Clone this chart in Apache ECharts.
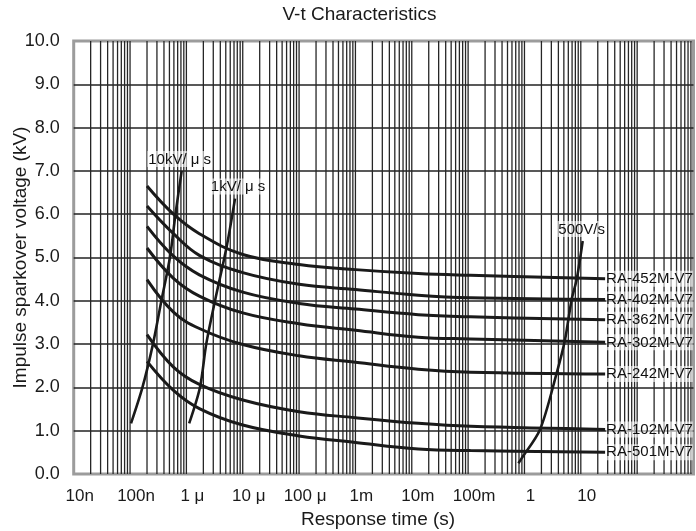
<!DOCTYPE html>
<html>
<head>
<meta charset="utf-8">
<script src="https://cdn.jsdelivr.net/npm/echarts@6/dist/echarts.min.js"></script>
<style>
html,body{margin:0;padding:0;background:#fff;}
#chart{width:696px;height:531px;}
</style>
</head>
<body>
<div id="chart"></div>
<script>
// ---- data ----
var times = [2.0e-7, 5.9e-7, 1.7e-6, 1.0e-5, 1.0e-4, 1.0e-3, 1.3e-2, 0.11, 27];
var seriesNames = ['RA-452M-V7','RA-402M-V7','RA-362M-V7','RA-302M-V7','RA-242M-V7','RA-102M-V7','RA-501M-V7'];
var v452 = [6.65, 6.00, 5.55, 5.07, 4.84, 4.72, 4.63, 4.59, 4.51];
var v402 = [6.19, 5.55, 5.05, 4.65, 4.38, 4.26, 4.13, 4.07, 4.03];
var v362 = [5.72, 5.03, 4.60, 4.20, 3.94, 3.81, 3.68, 3.63, 3.56];
var v302 = [5.22, 4.52, 4.11, 3.72, 3.47, 3.32, 3.16, 3.12, 3.04];
var v242 = [4.49, 3.74, 3.36, 2.99, 2.73, 2.58, 2.42, 2.35, 2.31];
var v102 = [3.22, 2.47, 2.07, 1.71, 1.44, 1.30, 1.17, 1.10, 1.03];
var v501 = [2.60, 1.93, 1.51, 1.13, 0.88, 0.73, 0.58, 0.54, 0.50];

var rateNames = ['10kV/ μ s', '1kV/ μ s', '500V/s'];
var r10kT = [1.04e-7, 1.66e-7, 2.55e-7, 3.6e-7, 5.1e-7, 6.4e-7, 8.25e-7];
var r10kV = [1.17, 2.0, 3.0, 4.0, 5.0, 6.0, 7.0];
var r1kT  = [1.12e-6, 1.74e-6, 2.25e-6, 3.22e-6, 5.2e-6, 7.3e-6];
var r1kV  = [1.17, 2.0, 3.0, 4.0, 5.26, 6.36];
var r500T = [0.78, 0.89, 1.88, 3.73, 5.24, 6.88, 8.44, 10.8];
var r500V = [0.25, 0.36, 1.02, 2.33, 3.10, 4.03, 4.49, 5.38];

var xTickExps   = [-8, -7, -6, -5, -4, -3, -2, -1, 0, 1];
var xTickLabels = ['10n', '100n', '1 μ', '10 μ', '100 μ', '1m', '10m', '100m', '1', '10'];
var gridDecades = [1e-8, 1e-7, 1e-6, 1e-5, 1e-4, 1e-3, 1e-2, 1e-1, 1, 10, 100];
var gridMultiples = [1, 2, 3, 4, 5, 6, 7, 8, 9];
var yMin = 0, yMax = 10;

// ---- build ----
var FONT = '"Liberation Sans", Arial, Helvetica, sans-serif';
var INK = '#1a1a1a';
function pairs(xs, ys){ return xs.map(function(x,i){ return [x, ys[i]]; }); }

// vertical log grid lines: one gapped line series through the axes
var gridLineData = [];
gridDecades.forEach(function(d, di){
  gridMultiples.forEach(function(m){
    if (di === 0 && m === 1) return; // left border
    var v = d * m;
    gridLineData.push([v, yMin], [v, yMax], [v, '-']);
  });
});

var curveData = [v452, v402, v362, v302, v242, v102, v501];
var series = [];

series.push({
  name: 'grid', type: 'line', z: 1, silent: true,
  data: gridLineData, showSymbol: false, connectNulls: false,
  lineStyle: {color: '#262626', width: 1.3},
  emphasis: {disabled: true}, tooltip: {show: false}
});

curveData.forEach(function(vals, i){
  series.push({
    name: seriesNames[i], type: 'line', z: 4,
    data: pairs(times, vals),
    showSymbol: false, smooth: 0.4,
    lineStyle: {color: INK, width: 3},
    endLabel: {
      show: true, formatter: '{a}', distance: 1,
      color: '#111', fontFamily: FONT, fontSize: 15,
      backgroundColor: 'rgba(255,255,255,0.6)', padding: [1, 0, 0, 0]
    }
  });
});

var rateLabelShift = [-2, 3, -1];
[[r10kT, r10kV], [r1kT, r1kV], [r500T, r500V]].forEach(function(tv, i){
  series.push({
    name: rateNames[i], type: 'line', z: 3,
    data: pairs(tv[0], tv[1]),
    showSymbol: false, smooth: 0.3,
    lineStyle: {color: INK, width: 2.6},
    endLabel: {
      show: true, formatter: '{a}', align: 'center', verticalAlign: 'bottom',
      distance: 0, offset: [rateLabelShift[i], -4],
      color: '#111', fontFamily: FONT, fontSize: 15,
      backgroundColor: 'rgba(255,255,255,0.6)', padding: [1, 1, 0, 1]
    }
  });
});

var chart = echarts.init(document.getElementById('chart'), null, {renderer: 'canvas'});
chart.setOption({
  animation: false,
  backgroundColor: '#fff',
  textStyle: {fontFamily: FONT},
  title: {
    text: 'V-t Characteristics', left: 359.5, top: 5, textAlign: 'center', padding: 0,
    textStyle: {fontFamily: FONT, fontSize: 19, fontWeight: 'normal', color: INK}
  },
  grid: {
    left: 73.7, right: 2.5, top: 41, bottom: 57,
    outerBoundsMode: 'none', containLabel: false,
    show: true, borderColor: '#9c9c9c', borderWidth: 3, backgroundColor: '#fff'
  },
  xAxis: {
    type: 'log', logBase: 10, min: 1e-8, max: 1e3, interval: 1,
    name: 'Response time (s)', nameLocation: 'middle', nameGap: 36, nameMoveOverlap: false,
    nameTextStyle: {fontFamily: FONT, fontSize: 19, color: INK, padding: [0, 11, 0, 0]},
    axisLine: {show: false}, axisTick: {show: false}, splitLine: {show: false},
    axisLabel: {
      margin: 14, fontFamily: FONT, fontSize: 17, color: INK, padding: [0, 0, 0, 12],
      showMinLabel: true, showMaxLabel: true, hideOverlap: false,
      formatter: function(v){
        var idx = xTickExps.indexOf(Math.round(Math.log10(v)));
        return idx >= 0 ? xTickLabels[idx] : '';
      }
    }
  },
  yAxis: {
    type: 'value', min: yMin, max: yMax, interval: 1,
    name: 'Impulse sparkover voltage (kV)', nameLocation: 'middle', nameGap: 43, nameMoveOverlap: false,
    nameTextStyle: {fontFamily: FONT, fontSize: 19, color: INK},
    axisLine: {show: false}, axisTick: {show: false},
    axisLabel: {
      margin: 14, fontFamily: FONT, fontSize: 18, color: INK,
      formatter: function(v){ return v.toFixed(1); }
    },
    splitLine: {show: true, showMinLine: false, showMaxLine: false,
      lineStyle: {color: '#222', width: 1.5}}
  },
  series: series
});
</script>
</body>
</html>
